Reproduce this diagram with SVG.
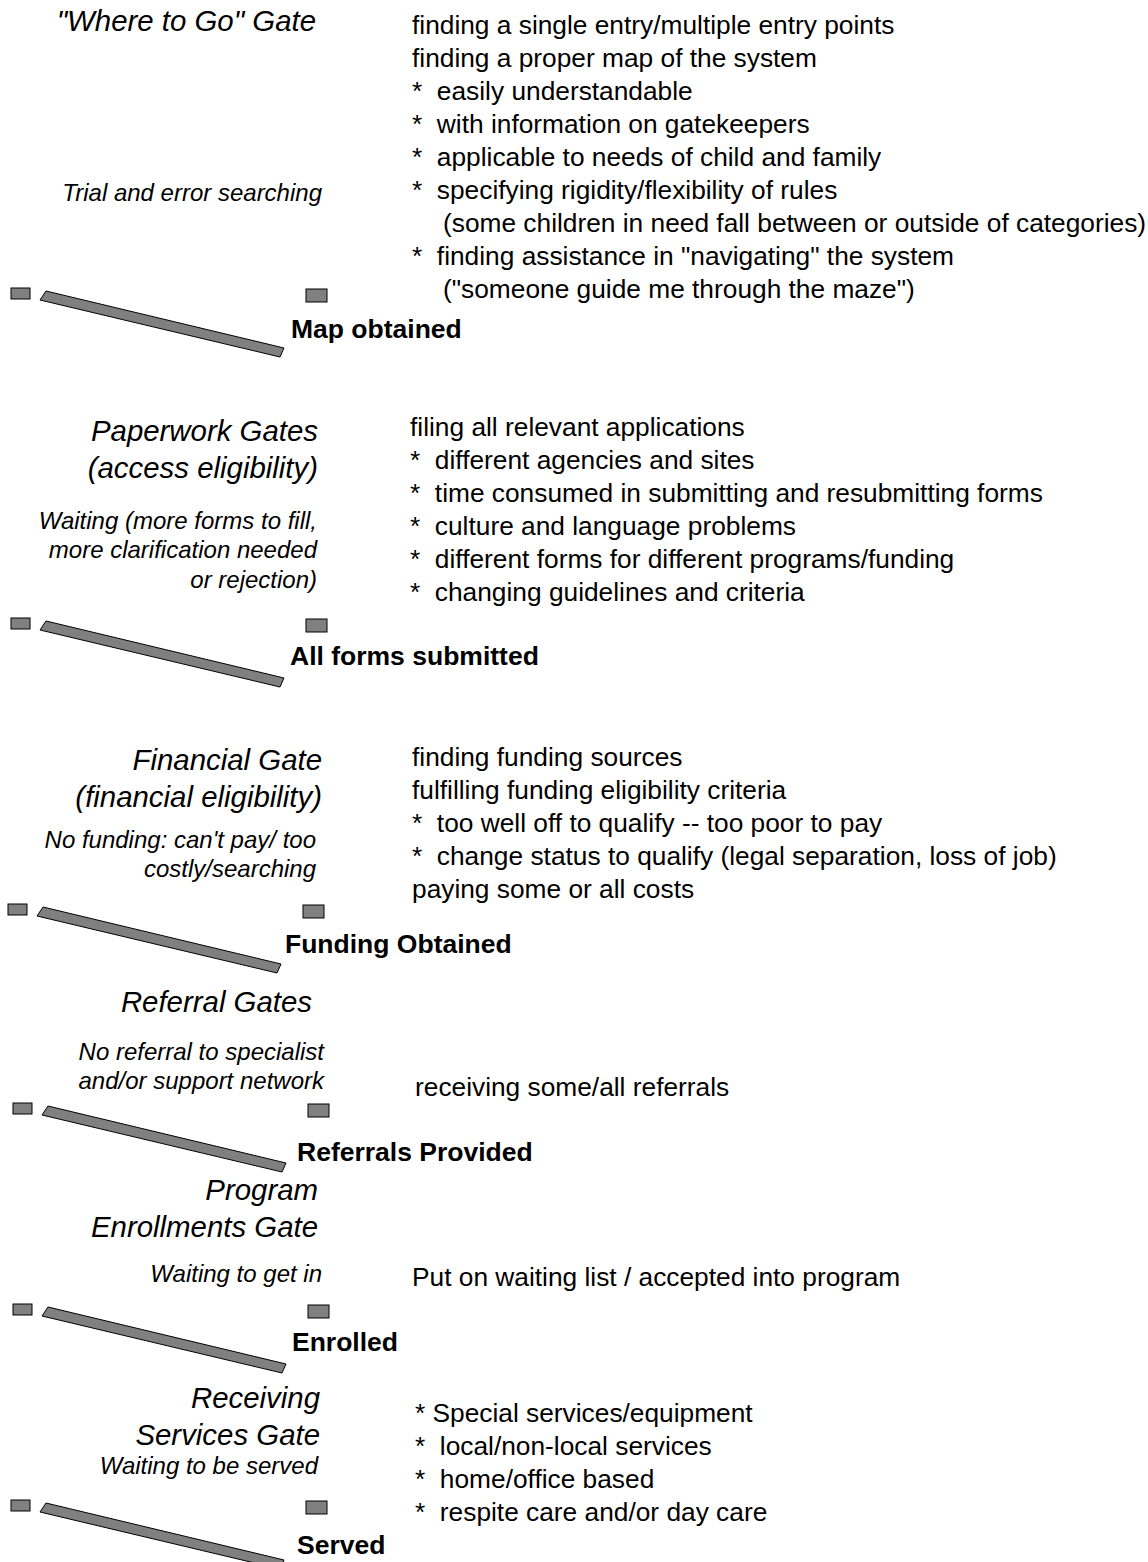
<svg xmlns="http://www.w3.org/2000/svg" xmlns:xlink="http://www.w3.org/1999/xlink" width="1148" height="1562" viewBox="0 0 1148 1562">
<style>
text { font-family: "Liberation Sans", Arial, sans-serif; fill: #000; }
.title { font-size: 29.4px; font-style: italic; text-anchor: end; }
.sub { font-size: 24px; font-style: italic; text-anchor: end; }
.body { font-size: 26.3px; white-space: pre; }
.label { font-size: 26.5px; font-weight: bold; }
.gate { fill: #808080; stroke: #000; stroke-width: 1; }
</style>
<defs>
<g id="gateShape">
<rect class="gate" x="11" y="288" width="19" height="11"/>
<polygon class="gate" points="46,291 284,348 280,357 40,300"/>
<rect class="gate" x="306" y="289" width="21" height="13"/>
</g>
</defs>
<rect width="1148" height="1562" fill="#fff"/>
<g id="connectors"/>

<g id="gate-where-to-go">
<use href="#gateShape"/>
<text class="title" x="316" y="31">"Where to Go" Gate</text>
<text class="sub" x="322" y="201">Trial and error searching</text>
<text class="body" x="412" y="34">finding a single entry/multiple entry points</text>
<text class="body" x="412" y="67">finding a proper map of the system</text>
<text class="body" x="412" y="100" xml:space="preserve">*  easily understandable</text>
<text class="body" x="412" y="133" xml:space="preserve">*  with information on gatekeepers</text>
<text class="body" x="412" y="166" xml:space="preserve">*  applicable to needs of child and family</text>
<text class="body" x="412" y="199" xml:space="preserve">*  specifying rigidity/flexibility of rules</text>
<text class="body" x="443" y="232">(some children in need fall between or outside of categories)</text>
<text class="body" x="412" y="265" xml:space="preserve">*  finding assistance in "navigating" the system</text>
<text class="body" x="443" y="298">("someone guide me through the maze")</text>
<text class="label" x="291" y="338">Map obtained</text>
</g>

<g id="gate-paperwork">
<use href="#gateShape" transform="translate(0,330)"/>
<text class="title" x="318" y="441">Paperwork Gates</text>
<text class="title" x="318" y="478">(access eligibility)</text>
<text class="sub" x="317" y="529">Waiting (more forms to fill,</text>
<text class="sub" x="317" y="558">more clarification needed</text>
<text class="sub" x="317" y="588">or rejection)</text>
<text class="body" x="410" y="436">filing all relevant applications</text>
<text class="body" x="410" y="469" xml:space="preserve">*  different agencies and sites</text>
<text class="body" x="410" y="502" xml:space="preserve">*  time consumed in submitting and resubmitting forms</text>
<text class="body" x="410" y="535" xml:space="preserve">*  culture and language problems</text>
<text class="body" x="410" y="568" xml:space="preserve">*  different forms for different programs/funding</text>
<text class="body" x="410" y="601" xml:space="preserve">*  changing guidelines and criteria</text>
<text class="label" x="290" y="665">All forms submitted</text>
</g>

<g id="gate-financial">
<use href="#gateShape" transform="translate(-3,616)"/>
<text class="title" x="322" y="770">Financial Gate</text>
<text class="title" x="322" y="807">(financial eligibility)</text>
<text class="sub" x="316" y="848">No funding: can't pay/ too</text>
<text class="sub" x="316" y="877">costly/searching</text>
<text class="body" x="412" y="766">finding funding sources</text>
<text class="body" x="412" y="799">fulfilling funding eligibility criteria</text>
<text class="body" x="412" y="832" xml:space="preserve">*  too well off to qualify -- too poor to pay</text>
<text class="body" x="412" y="865" xml:space="preserve">*  change status to qualify (legal separation, loss of job)</text>
<text class="body" x="412" y="898">paying some or all costs</text>
<text class="label" x="285" y="953">Funding Obtained</text>
</g>

<g id="gate-referral">
<use href="#gateShape" transform="translate(2,815)"/>
<text class="title" x="312" y="1012">Referral Gates</text>
<text class="sub" x="324" y="1060">No referral to specialist</text>
<text class="sub" x="324" y="1089">and/or support network</text>
<text class="body" x="415" y="1096">receiving some/all referrals</text>
<text class="label" x="297" y="1161">Referrals Provided</text>
</g>

<g id="gate-enrollment">
<use href="#gateShape" transform="translate(2,1016)"/>
<text class="title" x="318" y="1200">Program</text>
<text class="title" x="318" y="1237">Enrollments Gate</text>
<text class="sub" x="322" y="1282">Waiting to get in</text>
<text class="body" x="412" y="1286">Put on waiting list / accepted into program</text>
<text class="label" x="292" y="1351">Enrolled</text>
</g>

<g id="gate-services">
<use href="#gateShape" transform="translate(0,1212)"/>
<text class="title" x="320" y="1408">Receiving</text>
<text class="title" x="320" y="1445">Services Gate</text>
<text class="sub" x="318" y="1474">Waiting to be served</text>
<text class="body" x="415" y="1422">* Special services/equipment</text>
<text class="body" x="415" y="1455" xml:space="preserve">*  local/non-local services</text>
<text class="body" x="415" y="1488" xml:space="preserve">*  home/office based</text>
<text class="body" x="415" y="1521" xml:space="preserve">*  respite care and/or day care</text>
<text class="label" x="297" y="1554">Served</text>
</g>
</svg>
